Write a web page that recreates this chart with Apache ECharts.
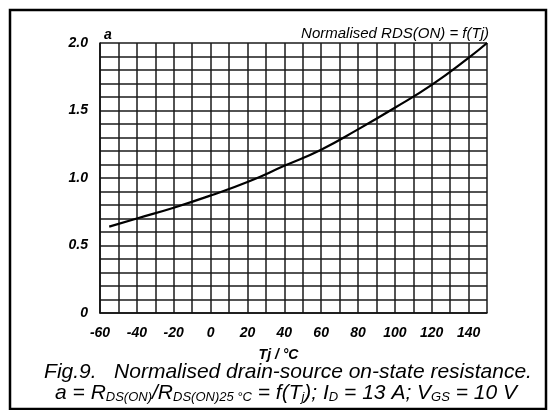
<!DOCTYPE html>
<html>
<head>
<meta charset="utf-8">
<script src="https://cdn.jsdelivr.net/npm/echarts@6/dist/echarts.min.js"></script>
<style>
html,body{margin:0;padding:0;background:#fff;}
#c{width:549px;height:410px;}
</style>
</head>
<body>
<div id="c"></div>
<script>
// Junction temperature (°C) and normalised RDS(ON)
const tempC = [-55, -40, -20, 0, 20, 40, 60, 80, 100, 120, 140, 150];
const aNorm = [0.64, 0.70, 0.78, 0.87, 0.97, 1.09, 1.21, 1.36, 1.52, 1.69, 1.89, 2.00];
const xTickLabels = [-60, -40, -20, 0, 20, 40, 60, 80, 100, 120, 140];
const yTickLabels = ['0', '0.5', '1.0', '1.5', '2.0'];

const FONT = 'Liberation Sans';
const chart = echarts.init(document.getElementById('c'));
const points = tempC.map((t, i) => [t, aNorm[i]]);

chart.setOption({
  backgroundColor: '#fff',
  animation: false,
  grid: { left: 100, right: 62, top: 43, bottom: 97 },
  xAxis: {
    type: 'value', min: -60, max: 150, interval: 10,
    axisLine: { show: true, onZero: false, lineStyle: { color: '#111', width: 1.6 } },
    axisTick: { show: false },
    splitLine: { show: true, lineStyle: { color: '#1a1a1a', width: 1.5 } },
    axisLabel: {
      margin: 13, color: '#000', fontFamily: FONT, fontStyle: 'italic', fontWeight: 'bold', fontSize: 14,
      formatter: v => xTickLabels.includes(Math.round(v)) ? String(Math.round(v)) : ''
    },
    name: 'Tj / °C', nameLocation: 'middle', nameGap: 35,
    nameTextStyle: { color: '#000', fontFamily: FONT, fontStyle: 'italic', fontWeight: 'bold', fontSize: 14, padding: [0, 30, 0, 0] }
  },
  yAxis: {
    type: 'value', min: 0, max: 2, interval: 0.1,
    axisLine: { show: true, onZero: false, lineStyle: { color: '#111', width: 1.6 } },
    axisTick: { show: false },
    splitLine: { show: true, lineStyle: { color: '#1a1a1a', width: 1.5 } },
    axisLabel: {
      margin: 12, color: '#000', fontFamily: FONT, fontStyle: 'italic', fontWeight: 'bold', fontSize: 14,
      formatter: v => {
        const s = Math.round(v * 10) / 10;
        const lab = s === 0 ? '0' : s.toFixed(1);
        return yTickLabels.includes(lab) ? lab : '';
      }
    },
    name: 'a', nameLocation: 'end', nameGap: 1,
    nameTextStyle: { align: 'left', color: '#000', fontFamily: FONT, fontStyle: 'italic', fontWeight: 'bold', fontSize: 14, padding: [0, 0, 0, 4] }
  },
  series: [{
    type: 'line', data: points, smooth: true, showSymbol: false,
    lineStyle: { color: '#000', width: 2.2 }, z: 5
  }],
  graphic: [
    { type: 'rect', shape: { x: 10, y: 10, width: 536, height: 399 },
      style: { fill: 'none', stroke: '#000', lineWidth: 2.5 }, silent: true },
    { type: 'text', x: 489, y: 34,
      style: { text: 'Normalised RDS(ON) = f(Tj)', align: 'right', verticalAlign: 'middle',
        font: 'italic 15px "Liberation Sans"', fill: '#000' } },
    { type: 'text', x: 288, y: 372,
      style: { text: 'Fig.9.   Normalised drain-source on-state resistance.', align: 'center', verticalAlign: 'middle',
        font: 'italic 21px "Liberation Sans"', fill: '#000' } },
    { type: 'text', x: 286, y: 393,
      style: {
        text: '{m|a = R}{s|DS(ON)}{m|/R}{s|DS(ON)25 °C}{m| = f(T}{s|j}{m|); I}{s|D}{m| = 13 A; V}{s|GS}{m| = 10 V}',
        align: 'center', verticalAlign: 'middle',
        rich: {
          m: { fontFamily: FONT, fontStyle: 'italic', fontSize: 21, color: '#000', lineHeight: 22, verticalAlign: 'middle' },
          s: { fontFamily: FONT, fontStyle: 'italic', fontSize: 13, color: '#000', lineHeight: 22, verticalAlign: 'bottom' }
        }
      } }
  ]
});
</script>
</body>
</html>
